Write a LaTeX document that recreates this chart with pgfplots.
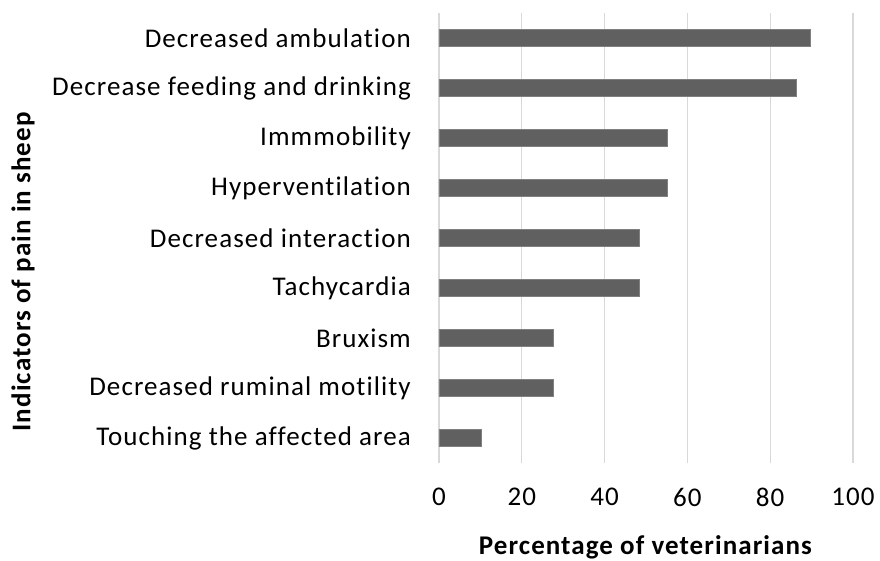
\documentclass[border=0pt]{standalone}
\usepackage{fontspec}
\setmainfont{Carlito}[LetterSpace=4, RawFeature={-liga}]
\usepackage{pgfplots}
\pgfplotsset{compat=1.18}
\definecolor{barc}{HTML}{606060}
\definecolor{gridc}{HTML}{D9D9D9}
\begin{document}
\fontsize{27}{31}\selectfont
\begin{tikzpicture}
\path[use as bounding box] (-439pt,-97pt) rectangle (441pt,463pt);
\begin{axis}[
  at={(0,0)}, anchor=south west,
  scale only axis, width=414pt, height=450pt,
  xbar, bar width=17.3pt, bar shift=0pt,
  xmin=0, xmax=100, ymin=-0.5, ymax=8.5,
  xtick={0,20,40,60,80,100},
  ytick={0,1,2,3,4,5,6,7,8},
  yticklabels={Touching the affected area, Decreased ruminal motility, Bruxism, Tachycardia, Decreased interaction, Hyperventilation, Immmobility, Decrease feeding and drinking, Decreased ambulation},
  axis line style={draw=none},
  tick style={draw=none},
  major tick length=0pt,
  xmajorgrids, ymajorgrids=false,
  major grid style={draw=gridc, line width=1.3pt},
  /pgf/number format/assume math mode=true,
  tick label style={font=\fontsize{27}{31}\selectfont},
  yticklabel style={inner sep=0pt, anchor=east, xshift=-28pt},
  xticklabel style={inner sep=0pt, anchor=north, yshift=-25pt},
  xlabel={\textbf{Percentage of veterinarians}},
  ylabel={\textbf{Indicators of pain in sheep}},
  xlabel style={font=\fontsize{27}{31}\selectfont, inner sep=0pt, at={(axis description cs:0.5,0)}, anchor=north, yshift=-72pt},
  ylabel style={font=\fontsize{27}{31}\selectfont, inner sep=0pt, at={(axis description cs:-1.005,0.426)}, anchor=center},
]
\addplot[fill=barc, draw=barc!80!white] coordinates {
(10.3,0) (27.6,1) (27.6,2) (48.3,3) (48.3,4) (55.2,5) (55.2,6) (86.2,7) (89.7,8)
};
\end{axis}
\end{tikzpicture}
\end{document}
